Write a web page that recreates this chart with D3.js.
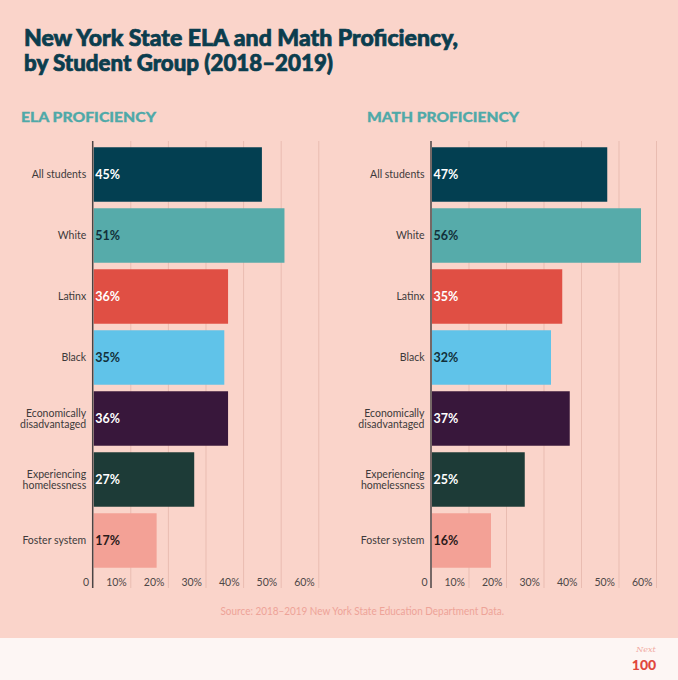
<!DOCTYPE html>
<html>
<head>
<meta charset="utf-8">
<script src="https://cdn.jsdelivr.net/npm/d3@7"></script>
<style>
    body { margin: 0; background: #fad4ca; }
    svg { display: block; font-family: Lato, "Open Sans", sans-serif; }
</style>
</head>
<body>
<svg id="chart" width="678" height="680"></svg>
<script>
let categories = ["All students", "White", "Latinx", "Black", "Economically\ndisadvantaged", "Experiencing\nhomelessness", "Foster system"];
let ela = [45, 51, 36, 35, 36, 27, 17];
let math = [47, 56, 35, 32, 37, 25, 16];
let barColors = ["#033f51", "#56abaa", "#e04f44", "#60c3e9", "#38173b", "#1d3b37", "#f3a196"];
let labelColors = ["#ffffff", "#12303a", "#ffffff", "#12303a", "#ffffff", "#ffffff", "#2a1a1a"];
let ticks = [0, 10, 20, 30, 40, 50, 60];

let svg = d3.select("#chart");

svg.append("rect")
    .attr("width", 678)
    .attr("height", 680)
    .attr("fill", "#fad4ca");

svg.append("rect")
    .attr("y", 638)
    .attr("width", 678)
    .attr("height", 42)
    .attr("fill", "#fdf6f4");

function fit(sel, w) {
    let len = sel.node().getComputedTextLength();
    if (Math.abs(len - w) > 2) {
        sel.attr("textLength", w).attr("lengthAdjust", "spacingAndGlyphs");
    }
}

// title, a thin stroke to get the heavy weight of the original
let t1 = svg.append("text")
    .attr("x", 24)
    .attr("y", 46)
    .attr("fill", "#0b3d4e")
    .attr("stroke", "#0b3d4e")
    .attr("stroke-width", 0.7)
    .attr("font-size", 22)
    .attr("font-weight", 900)
    .text("New York State ELA and Math Proficiency,");
fit(t1, 434);
let t2 = svg.append("text")
    .attr("x", 24)
    .attr("y", 71)
    .attr("fill", "#0b3d4e")
    .attr("stroke", "#0b3d4e")
    .attr("stroke-width", 0.7)
    .attr("font-size", 22)
    .attr("font-weight", 900)
    .text("by Student Group (2018\u20132019)");
fit(t2, 309);

function panel(title, titleX, titleW, values, x0, x1) {
    let x = d3.scaleLinear()
        .domain([0, 60])
        .range([x0, x1]);

    let y = d3.scaleBand()
        .domain(categories)
        .range([144, 571])
        .paddingInner(0.107)
        .paddingOuter(0.0535);

    let h = svg.append("text")
        .attr("x", titleX)
        .attr("y", 122)
        .attr("fill", "#4fa9a8")
        .attr("stroke", "#4fa9a8")
        .attr("stroke-width", 0.3)
        .attr("font-size", 14)
        .attr("font-weight", 900)
        .text(title);
    fit(h, titleW);

    // gridlines
    let grid = svg.append("g")
        .attr("transform", "translate(0,588)")
        .call(
            d3.axisBottom(x)
                .tickValues(ticks.slice(1))
                .tickSize(-447)
                .tickFormat("")
        );
    grid.select(".domain").remove();
    grid.selectAll("line")
        .attr("stroke", "#e9bcb1")
        .attr("stroke-width", 1);

    // tick labels, right aligned against each gridline
    let axis = svg.append("g")
        .attr("transform", "translate(0,582)")
        .call(
            d3.axisBottom(x)
                .tickValues(ticks)
                .tickSize(0)
                .tickPadding(0)
                .tickFormat(d => d === 0 ? "0" : d + "%")
        );
    axis.select(".domain").remove();
    axis.selectAll("text")
        .attr("text-anchor", "end")
        .attr("dx", -4)
        .attr("dy", "0.35em")
        .attr("y", 0)
        .attr("fill", "#4d4747")
        .attr("font-size", 10.5)
        .attr("font-family", "Lato, sans-serif");

    let rows = categories.map((c, i) => ({ name: c, value: values[i], i: i }));

    svg.selectAll(null)
        .data(rows)
        .enter()
        .append("rect")
        .attr("x", x(0) + 1)
        .attr("y", d => y(d.name))
        .attr("width", d => x(d.value) - x(0) - 1)
        .attr("height", y.bandwidth())
        .attr("fill", d => barColors[d.i]);

    svg.selectAll(null)
        .data(rows)
        .enter()
        .append("text")
        .attr("x", x(0) + 2.5)
        .attr("y", d => y(d.name) + y.bandwidth() / 2)
        .attr("dy", "0.36em")
        .attr("fill", d => labelColors[d.i])
        .attr("font-size", 12.5)
        .attr("font-weight", 700)
        .text(d => d.value + "%");

    let cats = svg.selectAll(null)
        .data(rows)
        .enter()
        .append("text")
        .attr("text-anchor", "end")
        .attr("fill", "#3d3a3a")
        .attr("font-size", 10.5)
        .attr("y", d => y(d.name) + y.bandwidth() / 2);

    cats.each(function (d) {
        let lines = d.name.split("\n");
        let start = -(lines.length - 1) * 5.5;
        lines.forEach((l, k) => {
            d3.select(this)
                .append("tspan")
                .attr("x", x(0) - 6.5)
                .attr("dy", k === 0 ? (start / 10.5 + 0.35) + "em" : "1.05em")
                .text(l);
        });
    });

    // axis line
    svg.append("line")
        .attr("x1", x(0))
        .attr("x2", x(0))
        .attr("y1", 141)
        .attr("y2", 588)
        .attr("stroke", "#4a4444")
        .attr("stroke-width", 1.5);
}

panel("ELA PROFICIENCY", 21, 135, ela, 92.7, 318.3);
panel("MATH PROFICIENCY", 367, 152, math, 431, 656);

let src = svg.append("text")
    .attr("x", 220.5)
    .attr("y", 615)
    .attr("fill", "#eea398")
    .attr("font-size", 10.5)
    .text("Source: 2018\u20132019 New York State Education Department Data.");
fit(src, 283.5);

// logo
svg.append("text")
    .attr("x", 646)
    .attr("y", 652)
    .attr("text-anchor", "middle")
    .attr("fill", "#f1aaa2")
    .attr("font-size", 8)
    .attr("font-style", "italic")
    .attr("font-family", "DejaVu Serif, serif")
    .text("Next");
svg.append("text")
    .attr("x", 644)
    .attr("y", 670)
    .attr("text-anchor", "middle")
    .attr("fill", "#e0473d")
    .attr("font-size", 14)
    .attr("font-weight", 900)
    .text("100");
</script>
</body>
</html>
